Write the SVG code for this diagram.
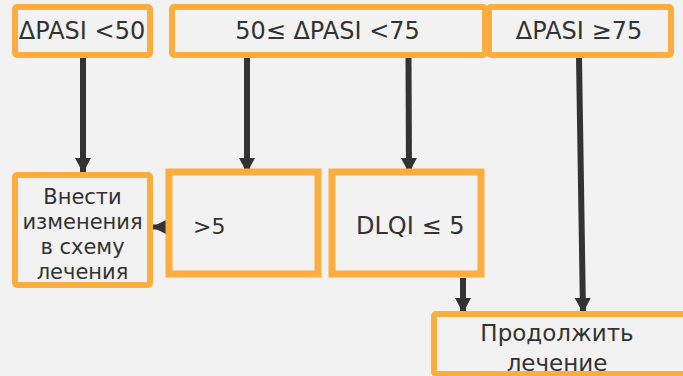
<svg xmlns="http://www.w3.org/2000/svg" width="683" height="376" viewBox="0 0 683 376">
<defs>
<style>
.box{fill:none;stroke:#fbad3f;stroke-width:6;stroke-linejoin:round}
.box2{fill:none;stroke:#fbad3f;stroke-width:7}
.t{font-family:"DejaVu Sans",Verdana,sans-serif;fill:#333333}
.c{fill:none;stroke:#333333;stroke-width:6}
.ch{fill:none;stroke:#333333;stroke-width:5}
</style>
<marker id="ah" markerUnits="userSpaceOnUse" markerWidth="16" markerHeight="16" viewBox="0 0 16 16" refX="15" refY="8" orient="auto">
<path d="M0,0 L15,8 L0,16 Z" fill="#333333"/>
</marker>
<marker id="ahs" markerUnits="userSpaceOnUse" markerWidth="14" markerHeight="14" viewBox="0 0 14 14" refX="14" refY="7" orient="auto">
<path d="M0,0 L14,7 L0,14 Z" fill="#333333"/>
</marker>
</defs>
<rect width="683" height="376" fill="#f2f2f2"/>
<g id="connectors">
<line class="c" x1="83" y1="58" x2="83" y2="173" marker-end="url(#ah)"/>
<line class="c" x1="247" y1="58" x2="247" y2="173" marker-end="url(#ah)"/>
<line class="c" x1="408.5" y1="58" x2="409" y2="173" marker-end="url(#ah)"/>
<line class="c" x1="579" y1="58" x2="583" y2="313" marker-end="url(#ah)"/>
<line class="c" x1="463" y1="278" x2="463" y2="313" marker-end="url(#ah)"/>
<line class="ch" x1="172" y1="227" x2="152" y2="227" marker-end="url(#ahs)"/>
</g>
<g id="n1">
<rect class="box" x="15" y="7" width="135" height="48" rx="2"/>
<text class="t" x="82" y="39" font-size="24" text-anchor="middle">ΔPASI &lt;50</text>
</g>
<g id="n2">
<rect class="box" x="172" y="7" width="313" height="48" rx="2"/>
<text class="t" x="327.5" y="39" font-size="24" text-anchor="middle">50≤ ΔPASI &lt;75</text>
</g>
<g id="n3">
<rect class="box" x="489" y="7" width="182" height="48" rx="2"/>
<text class="t" x="579" y="39" font-size="24" text-anchor="middle">ΔPASI ≥75</text>
</g>
<g id="n4">
<rect class="box" x="15" y="175" width="135" height="110" rx="2"/>
<text class="t" font-size="21" text-anchor="middle"><tspan x="82.5" y="204">Внести</tspan><tspan x="82.5" y="229">изменения</tspan><tspan x="82.5" y="254">в схему</tspan><tspan x="82.5" y="279">лечения</tspan></text>
</g>
<g id="n5">
<rect class="box2" x="169" y="172" width="149" height="102"/>
<text class="t" x="193" y="234" font-size="22">&gt;5</text>
</g>
<g id="n6">
<rect class="box2" x="332" y="172" width="149" height="102"/>
<text class="t" x="356" y="234" font-size="24">DLQI ≤ 5</text>
</g>
<g id="n7">
<rect class="box" x="434" y="314" width="262" height="60" rx="2"/>
<text class="t" font-size="23" text-anchor="middle"><tspan x="557" y="341">Продолжить</tspan><tspan x="557" y="371">лечение</tspan></text>
</g>
</svg>
